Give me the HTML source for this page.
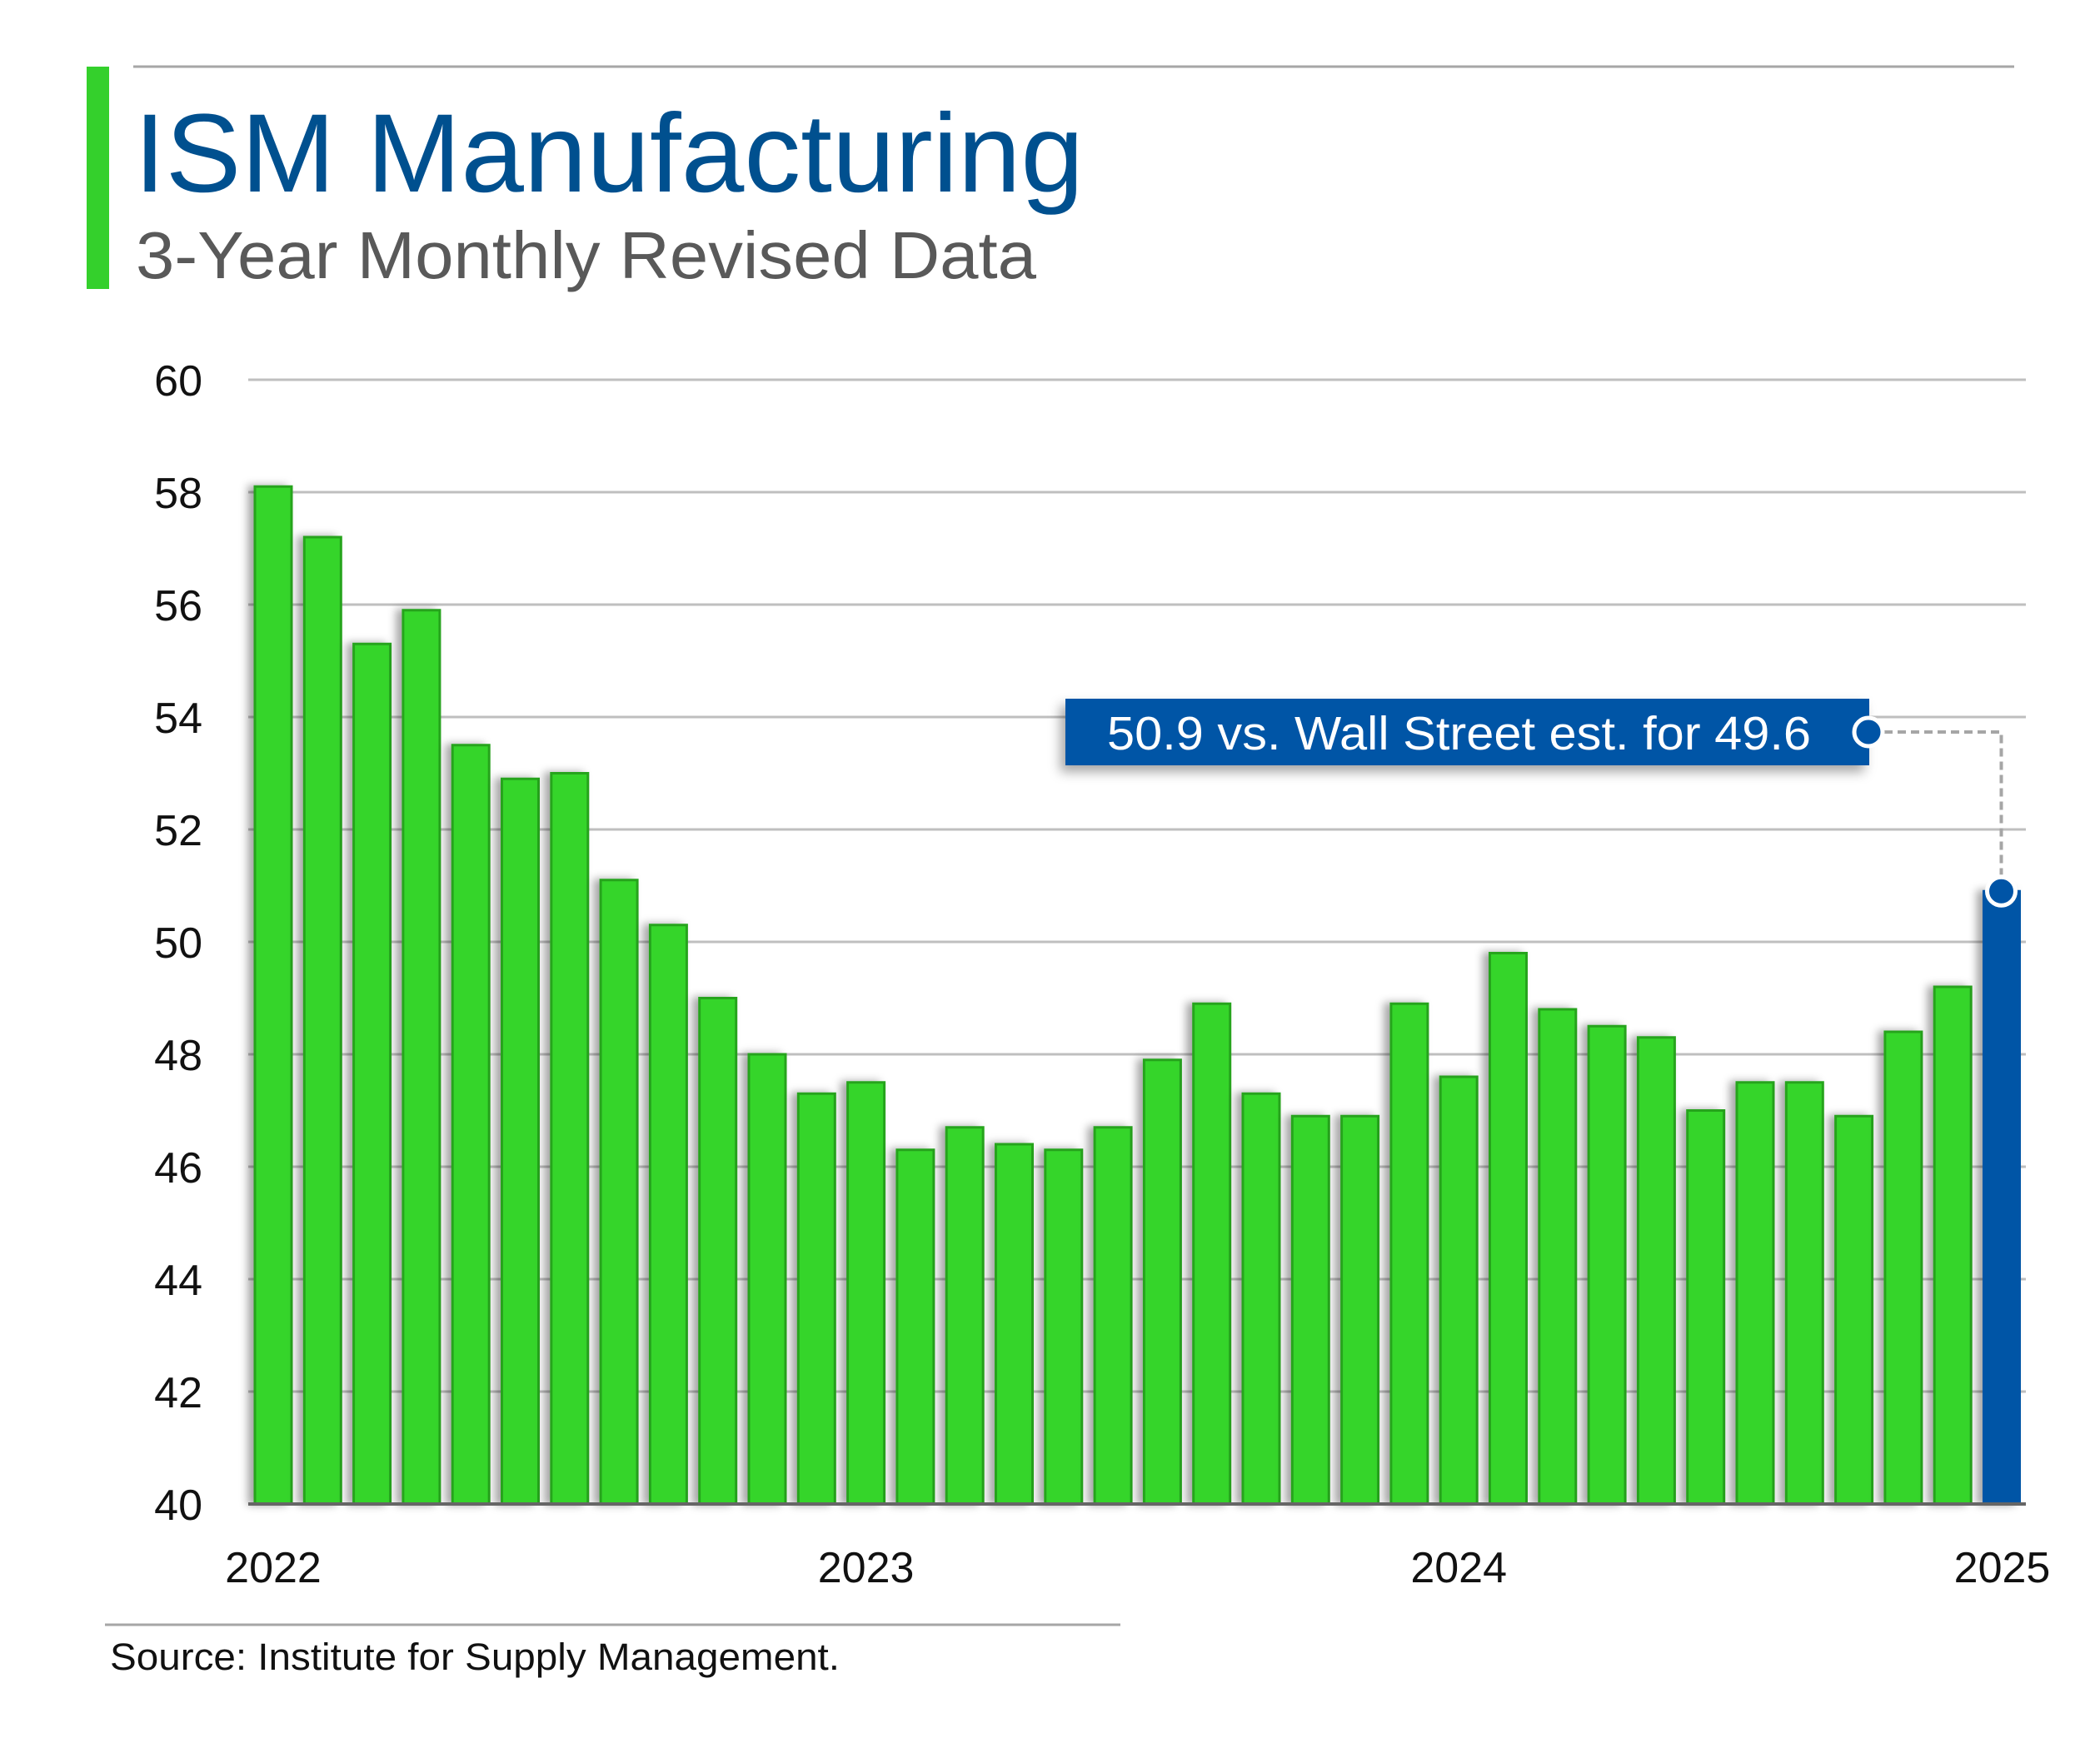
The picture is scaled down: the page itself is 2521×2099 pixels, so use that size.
<!DOCTYPE html>
<html><head><meta charset="utf-8"><title>ISM Manufacturing</title>
<style>
html,body{margin:0;padding:0;background:#fff;}
svg{display:block;font-family:"Liberation Sans",sans-serif;}
</style></head>
<body>
<svg id="chart" width="2521" height="2099" viewBox="0 0 2521 2099" xmlns="http://www.w3.org/2000/svg">
<defs>
<filter id="sh" x="-50%" y="-5%" width="200%" height="110%"><feDropShadow dx="-7" dy="0" stdDeviation="5" flood-color="#000" flood-opacity="0.35"/></filter>
<filter id="bsh" x="-10%" y="-30%" width="120%" height="180%"><feDropShadow dx="-6" dy="8" stdDeviation="7" flood-color="#000" flood-opacity="0.35"/></filter>
</defs>
<line x1="160" y1="80" x2="2418" y2="80" stroke="#a6a6a6" stroke-width="3"/>
<rect x="104" y="80" width="27" height="267" fill="#34d02c"/>
<text x="161" y="230" font-size="134" fill="#00508f" textLength="1140" lengthAdjust="spacingAndGlyphs">ISM Manufacturing</text>
<text x="163" y="334" font-size="80" fill="#595959" textLength="1081" lengthAdjust="spacingAndGlyphs">3-Year Monthly Revised Data</text>
<g id="grid"></g>
<g id="bars"></g>
<g id="axis"></g>
<line x1="126" y1="1951" x2="1345" y2="1951" stroke="#a6a6a6" stroke-width="3"/>
<text x="132" y="2005" font-size="45" fill="#111" textLength="876" lengthAdjust="spacingAndGlyphs">Source: Institute for Supply Management.</text>
<g id="annot"></g>
</svg>
<script>
const values = [58.1,57.2,55.3,55.9,53.5,52.9,53.0,51.1,50.3,49.0,48.0,47.3,47.5,46.3,46.7,46.4,46.3,46.7,47.9,48.9,47.3,46.9,46.9,48.9,47.6,49.8,48.8,48.5,48.3,47.0,47.5,47.5,46.9,48.4,49.2,50.9];
const yTicks = [40,42,44,46,48,50,52,54,56,58,60];
const yearLabels = ["2022","2023","2024","2025"];
const yearIndex = [0,12,24,35];
const annotText = "50.9 vs. Wall Street est. for 49.6";

const NS="http://www.w3.org/2000/svg";
const plotL=298, plotR=2432, y0=1806, pxPerUnit=67.5, pitch=59.3, barW=44, firstX=306;
function yScale(v){return y0-(v-40)*pxPerUnit;}
function xScale(i){return firstX+i*pitch;}
function mk(tag,attrs,parent){const e=document.createElementNS(NS,tag);for(const k in attrs)e.setAttribute(k,attrs[k]);parent.appendChild(e);return e;}

const grid=document.getElementById('grid'), bars=document.getElementById('bars'), axis=document.getElementById('axis'), annot=document.getElementById('annot');
yTicks.forEach(t=>{
  if(t!==40){
    const l=mk('line',{x1:plotL,x2:plotR,y1:yScale(t),y2:yScale(t),stroke:'#bfbfbf','stroke-width':3},grid);
    
    
  }
  const tx=mk('text',{x:243,y:yScale(t)+19,'font-size':52,'text-anchor':'end',fill:'#111'},axis);
  tx.textContent=t;
  
  
});
const last=values.length-1;
values.forEach((v,i)=>{
  const x=xScale(i), y=yScale(v);
  const isLast=i===last;
  const r=mk('rect',{x:x,y:y,width:isLast?43:barW,height:y0-y,fill:isLast?'#0054a6':'#34d52c',stroke:isLast?'#0054a6':'#26a41f','stroke-width':3,filter:'url(#sh)'},bars);
  
  
});
const ax=mk('line',{x1:plotL,x2:plotR,y1:y0,y2:y0,stroke:'#666','stroke-width':4},axis);


yearLabels.forEach((lab,k)=>{
  const i=yearIndex[k];
  const cx=xScale(i)+22;
  const t=mk('text',{x:cx,y:1900,'font-size':52,'text-anchor':'middle',fill:'#111'},axis);
  t.textContent=lab;
  
  
});
// annotation
const lx=xScale(last)+21, ly=yScale(values[last]);
const box=mk('rect',{x:1279,y:839,width:965,height:80,fill:'#0054a6',filter:'url(#bsh)'},annot);


const at=mk('text',{x:1329,y:900,'font-size':57,fill:'#fff',textLength:845,lengthAdjust:'spacingAndGlyphs'},annot);
at.textContent=annotText;


const dl=mk('polyline',{points:`2262,879 ${lx},879 ${lx},${ly-20}`,fill:'none',stroke:'#a6a6a6','stroke-width':4,'stroke-dasharray':'10,6'},annot);


const c1=mk('circle',{cx:2243,cy:879,r:17,fill:'#0054a6',stroke:'#fff','stroke-width':5},annot);


const c2=mk('circle',{cx:lx,cy:ly,r:17,fill:'#0054a6',stroke:'#fff','stroke-width':5},annot);


</script>
</body></html>
